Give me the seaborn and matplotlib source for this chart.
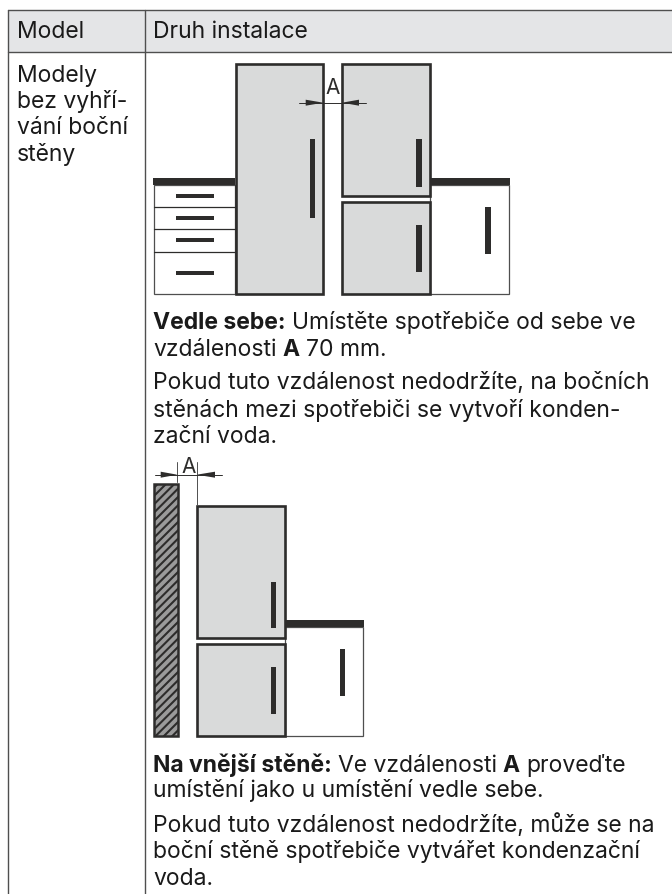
import matplotlib.pyplot as plt
import matplotlib.patches as mpatches
import seaborn as sns

INK = "#2d2c2b"
RULE = "#4f4f4f"
GREY = "#d9dada"
HEAD = "#e4e5e7"

# table
header_band = (8, 10, 672, 52.3)
table_rules = [
    ((8, 672), (10, 10)),
    ((8, 672), (52.3, 52.3)),
    ((8.3, 8.3), (10, 894)),
    ((145, 145), (10, 894)),
]

# drawings, all (x0, y0, x1, y1)
fridges = [
    (235.8, 63.8, 323.3, 293.7),
    (342, 63.8, 430, 196),
    (342, 202, 430, 293.7),
    (197, 505.5, 284.7, 638),
    (197, 643.5, 284.7, 735.8),
]
cabinets = [
    (154, 185, 235.3, 294),
    (430, 185, 509, 294),
    (284.7, 627, 363.3, 736),
]
worktops = [
    (152.7, 178, 235.3, 185),
    (430, 178, 509.5, 185),
    (284.7, 620.3, 364, 627.3),
]
handles = [
    (309.7, 139, 315, 218),
    (416, 139, 421.7, 186.7),
    (416, 225, 421.7, 272),
    (485.3, 207, 490.7, 254),
    (271, 581.7, 276.3, 628.3),
    (271, 667.3, 276.3, 714),
    (340.3, 649.3, 345.3, 696.3),
    (175.7, 193.9, 214, 197.9),
    (175.7, 216, 214, 220),
    (175.7, 238.3, 214, 242.3),
    (175.7, 270.7, 214, 274.7),
]
drawer_lines = [206.7, 229, 251.7]
wall = (154, 483.5, 178.2, 736)

# dimension marks: y, line ends, arrow tips, arrow backs
dim_marks = [
    (102.7, (299.3, 366), (323.3, 342), (305.7, 359)),
    (474.7, (155, 221.7), (177.3, 196.7), (160.7, 215)),
]
witness_lines = [
    ((177.3, 177.3), (461.7, 482)),
    ((196.7, 196.7), (461.7, 505)),
]
dim_labels = [(333, 94.3), (188.3, 473)]

# text lines, (x, baseline, [(text, bold), ...])
header_text = [(17, 38.3, "Model"), (153, 38.3, "Druh instalace")]
model_text = ["Modely", "bez vyhří-", "vání boční", "stěny"]
model_base = [81.7, 108, 134.5, 160.7]
body_lines = [
    (329.3, [("Vedle sebe:", True), ("Umístěte spotřebiče od sebe ve", False)]),
    (356, [("vzdálenosti", False), ("A", True), ("70 mm.", False)]),
    (389.3, [("Pokud tuto vzdálenost nedodržíte, na bočních", False)]),
    (416.7, [("stěnách mezi spotřebiči se vytvoří konden-", False)]),
    (443.3, [("zační voda.", False)]),
    (771.7, [("Na vnější stěně:", True), ("Ve vzdálenosti", False), ("A", True), ("proveďte", False)]),
    (797.3, [("umístění jako u umístění vedle sebe.", False)]),
    (831.7, [("Pokud tuto vzdálenost nedodržíte, může se na", False)]),
    (858.3, [("boční stěně spotřebiče vytvářet kondenzační", False)]),
    (885, [("voda.", False)]),
]

FONT = "Inter"
SIZE = 16.5
SPACE = 6.0

sns.set_theme(style="white")
plt.rcParams["font.family"] = [FONT, "DejaVu Sans"]
plt.rcParams["hatch.linewidth"] = 1.5

fig, ax = plt.subplots(figsize=(6.72, 8.94), dpi=100)
ax.set_position([0, 0, 1, 1])


def box(r, **kw):
    ax.add_patch(mpatches.Rectangle((r[0], r[1]), r[2] - r[0], r[3] - r[1], **kw))


def rule(xs, ys, color=RULE, lw=0.85):
    sns.lineplot(x=list(xs), y=list(ys), ax=ax, color=color, lw=lw, estimator=None, sort=False)


box(header_band, fc=HEAD, ec="none")
for xs, ys in table_rules:
    rule(xs, ys, lw=1.0)

for r in cabinets:
    box(r, fc="white", ec=RULE, lw=0.9)
for y in drawer_lines:
    rule((154, 235.3), (y, y), color=INK, lw=0.9)
for r in fridges:
    box(r, fc=GREY, ec=INK, lw=1.9)
for r in worktops + handles:
    box(r, fc=INK, ec="none")
box(wall, fc="#9a9a9a", ec=INK, lw=1.8, hatch="////")

for xs, ys in witness_lines:
    rule(xs, ys, lw=0.7)
for y, ends, tips, backs in dim_marks:
    rule(ends, (y, y), color=INK, lw=0.7)
    for tip, back in zip(tips, backs):
        ax.fill([tip, back, back], [y, y - 3, y + 3], color=INK, lw=0)
for x, y in dim_labels:
    ax.text(x, y, "A", ha="center", va="baseline", fontsize=15, color=INK)

ax.set_xlim(0, 672)
ax.set_ylim(894, 0)
ax.set_xticks([])
ax.set_yticks([])
sns.despine(ax=ax, left=True, bottom=True)

for x, y, s in header_text:
    ax.text(x, y, s, va="baseline", fontsize=SIZE, color="#1a1a1a")
for s, y in zip(model_text, model_base):
    ax.text(17, y, s, va="baseline", fontsize=SIZE, color="#1a1a1a")

renderer = fig.canvas.get_renderer()
for y, parts in body_lines:
    x = 153
    for s, bold in parts:
        t = ax.text(x, y, s, va="baseline", fontsize=SIZE, color="#1a1a1a",
                    fontweight="bold" if bold else "normal")
        x = t.get_window_extent(renderer).x1 + SPACE

fig.savefig("out.png", dpi=100)
